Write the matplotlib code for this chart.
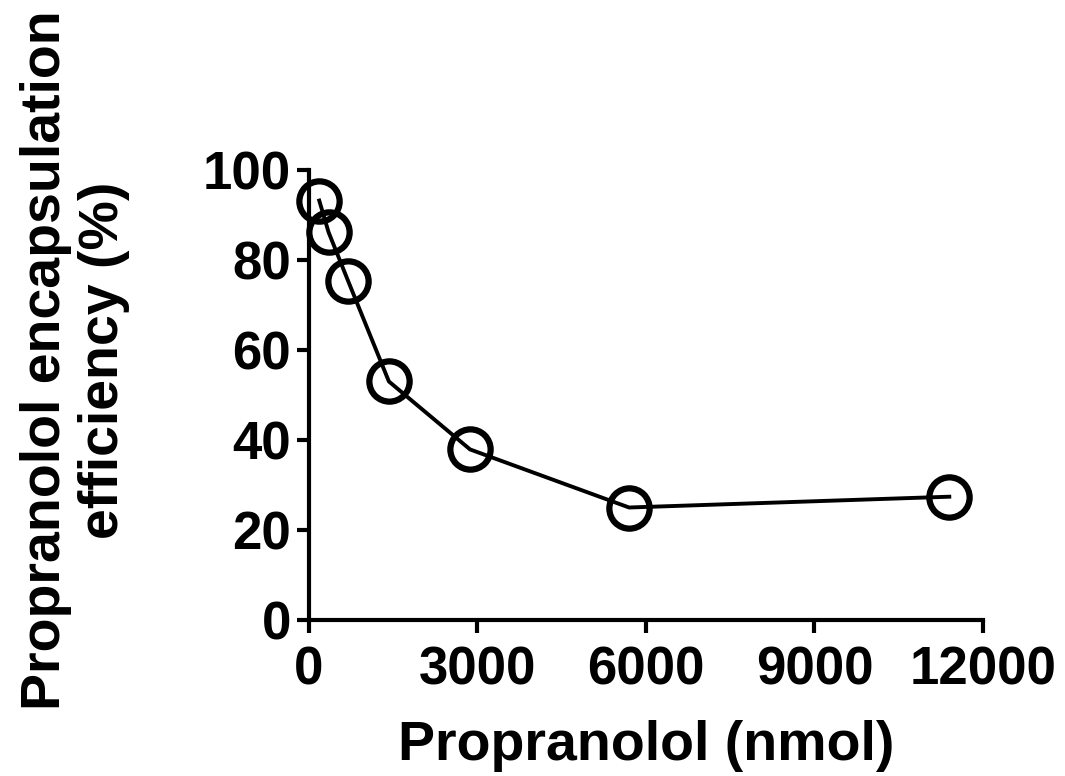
import matplotlib
matplotlib.use("Agg")
import matplotlib.pyplot as plt

# data
propranolol_nmol = [185, 350, 700, 1425, 2870, 5700, 11400]
efficiency_pct = [93.2, 86.2, 75.3, 53.0, 37.9, 25.0, 27.4]

x_ticks = [0, 3000, 6000, 9000, 12000]
y_ticks = [0, 20, 40, 60, 80, 100]

plt.rcParams['font.family'] = ['Liberation Sans', 'DejaVu Sans']
plt.rcParams['font.weight'] = 'bold'

fig = plt.figure(figsize=(10.65, 7.76), dpi=100)
ax = fig.add_axes([0.290, 0.201, 0.633, 0.580])

ax.plot(propranolol_nmol, efficiency_pct, color='black', lw=2.8,
        marker='o', ms=29, mfc='none', mec='black', mew=4.5, clip_on=False)

ax.set_xlim(0, 12000)
ax.set_ylim(0, 100)
ax.set_xticks(x_ticks)
ax.set_yticks(y_ticks)
ax.set_xticklabels([str(v) for v in x_ticks], fontsize=38, fontweight='bold')
ax.set_yticklabels([str(v) for v in y_ticks], fontsize=38, fontweight='bold')
ax.tick_params(direction='out', length=9, width=3)
ax.tick_params(axis='x', pad=9)
ax.tick_params(axis='y', pad=4)

for side in ['top', 'right']:
    ax.spines[side].set_visible(False)
for side in ['left', 'bottom']:
    ax.spines[side].set_linewidth(3)

ax.set_xlabel('Propranolol (nmol)', fontsize=40, fontweight='bold', labelpad=18)
fig.text(0.0704, 0.536, 'Propranolol encapsulation\nefficiency (%)', fontsize=40,
         fontweight='bold', rotation=90, ha='center', va='center',
         multialignment='center', linespacing=1.15)

fig.savefig('out.png', dpi=100)
